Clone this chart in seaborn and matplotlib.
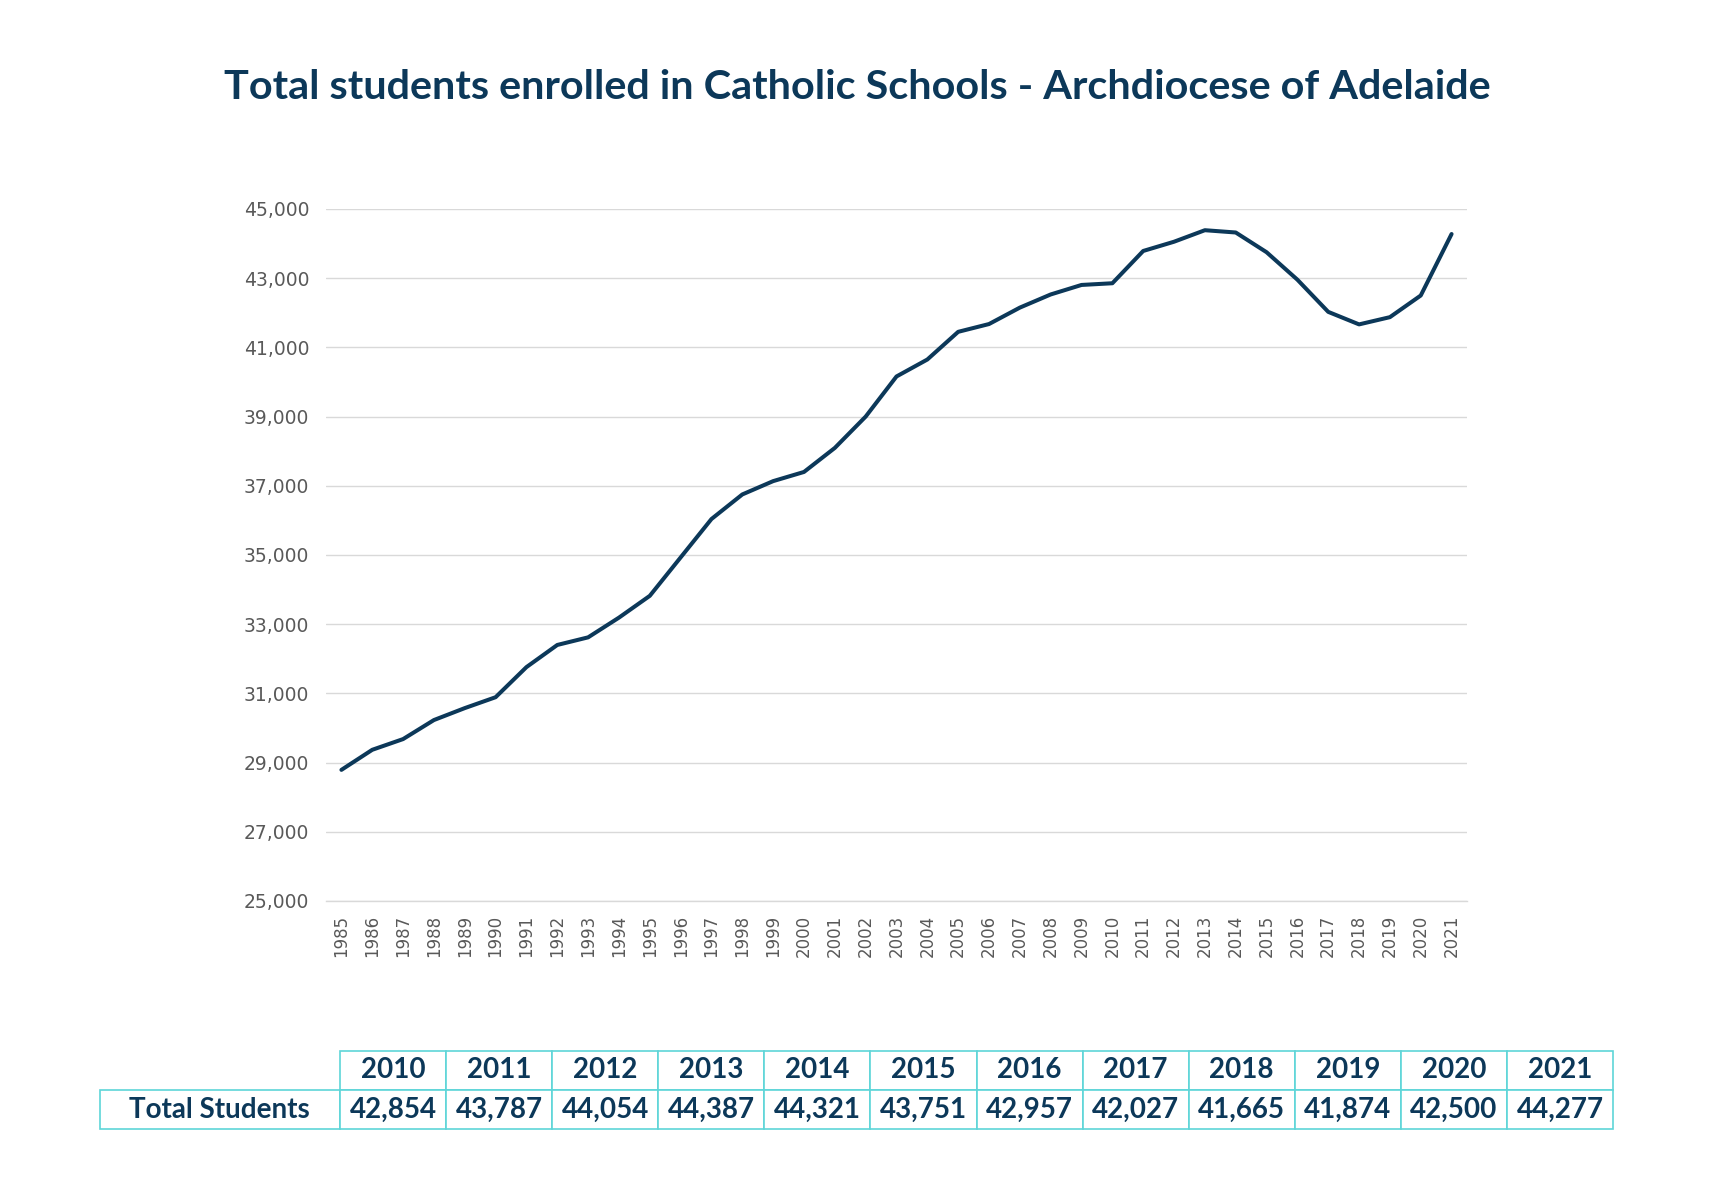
import matplotlib
matplotlib.use("Agg")
import matplotlib.pyplot as plt
from matplotlib.ticker import FixedLocator, StrMethodFormatter
import seaborn as sns
import pandas as pd

# ---------------- data ----------------
years = list(range(1985, 2022))
students = [28790, 29370, 29680, 30230, 30575, 30890, 31760, 32400, 32620, 33190,
            33820, 34930, 36040, 36750, 37135, 37400, 38095, 39000, 40160, 40650,
            41450, 41675, 42150, 42530, 42805,
            42854, 43787, 44054, 44387, 44321, 43751, 42957, 42027, 41665, 41874, 42500, 44277]

table_years = ["2010", "2011", "2012", "2013", "2014", "2015",
               "2016", "2017", "2018", "2019", "2020", "2021"]
table_values = ["42,854", "43,787", "44,054", "44,387", "44,321", "43,751",
                "42,957", "42,027", "41,665", "41,874", "42,500", "44,277"]
row_label = "Total Students"
title = "Total students enrolled in Catholic Schools - Archdiocese of Adelaide"

y_ticks = [25000, 27000, 29000, 31000, 33000, 35000, 37000, 39000, 41000, 43000, 45000]

# ---------------- style ----------------
NAVY = "#0C3859"
GRID = "#D9D9D9"
TICK = "#595959"
TEAL = "#5ED5D8"

sns.set_theme(style="white")
plt.rcParams["font.family"] = ["Lato", "DejaVu Sans"]

W, H = 1714, 1200
fig = plt.figure(figsize=(W / 100, H / 100), dpi=100)
fig.patch.set_facecolor("white")

# main axes
ax_l, ax_r, ax_t, ax_b = 326, 1467, 209, 901
ax = fig.add_axes([ax_l / W, 1 - ax_b / H, (ax_r - ax_l) / W, (ax_b - ax_t) / H])

df = pd.DataFrame({"Year": years, "Students": students})
sns.lineplot(data=df, x="Year", y="Students", ax=ax, color=NAVY, linewidth=2.9,
             solid_capstyle="round", solid_joinstyle="round", zorder=3)

ax.set_xlim(years[0] - 0.5, years[-1] + 0.5)
ax.set_ylim(y_ticks[0], y_ticks[-1])
ax.set_yticks(y_ticks)
ax.yaxis.set_major_formatter(StrMethodFormatter("{x:,.0f}"))
ax.set_xticks(years)
ax.set_xticklabels([str(y) for y in years], rotation=90, va="top", ha="center")
ax.xaxis.set_minor_locator(FixedLocator([y - 0.5 for y in years] + [years[-1] + 0.5]))

ax.grid(axis="y", color=GRID, linewidth=1.0, zorder=0)
ax.grid(axis="x", visible=False)
ax.set_axisbelow(True)
for s in ["top", "right", "left"]:
    ax.spines[s].set_visible(False)
ax.spines["bottom"].set_color(GRID)
ax.spines["bottom"].set_linewidth(1.0)

for lab in ax.get_yticklabels() + ax.get_xticklabels():
    lab.set_family(["DejaVu Sans"])
ax.tick_params(axis="y", length=0, pad=12, labelsize=13.5, labelcolor=TICK)
ax.tick_params(axis="x", which="major", length=0, pad=10, labelsize=12, labelcolor=TICK)
ax.tick_params(axis="x", which="minor", length=5, width=1.0, color=GRID)
ax.set_xlabel("")
ax.set_ylabel("")

# title
t = fig.text(0.5, 1 - 87.5 / H, title, ha="center", va="center",
             fontsize=27, fontweight="bold", color=NAVY)
fig.canvas.draw()
bb = t.get_window_extent()
t.set_fontsize(27 * 1266 / bb.width)

# table
tb_l, tb_r, tb_t, tb_b = 99.5, 1613, 1050.5, 1129.2
tax = fig.add_axes([tb_l / W, 1 - tb_b / H, (tb_r - tb_l) / W, (tb_b - tb_t) / H])
tax.axis("off")
first_w = 340 - tb_l
col_w = (tb_r - 340) / len(table_years)
total_w = tb_r - tb_l
cell_text = [[""] + table_years, [row_label] + table_values]
col_widths = [first_w / total_w] + [col_w / total_w] * len(table_years)
tbl = tax.table(cellText=cell_text, colWidths=col_widths, cellLoc="center",
                bbox=[0, 0, 1, 1])
tbl.auto_set_font_size(False)
tbl.set_fontsize(20)
for (r, c), cell in tbl.get_celld().items():
    cell.set_edgecolor(TEAL)
    cell.set_linewidth(1.2)
    cell.set_facecolor("white")
    cell.get_text().set_color(NAVY)
    cell.get_text().set_fontweight("bold")
    if r == 0 and c == 0:
        cell.visible_edges = "open"

fig.savefig("out.png", dpi=100, facecolor="white")
